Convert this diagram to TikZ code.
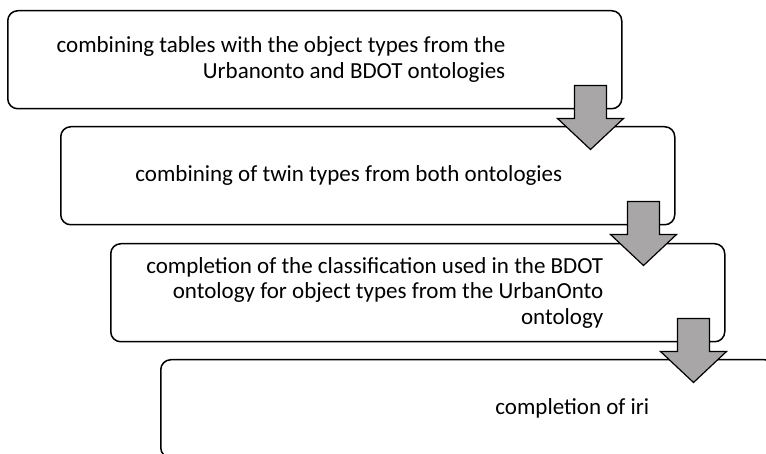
\documentclass[tikz,border=0pt]{standalone}
\usepackage{fontspec}
\setmainfont{Carlito}
\usetikzlibrary{positioning,calc}
\definecolor{grigio}{RGB}{168,166,166}
\tikzset{main base/.style={draw,line width=1.5pt}, }
\tikzset{main node/.style={rectangle,main base,rounded corners=10pt,
    minimum width=614pt,minimum height=98pt,anchor=north west}, }
\tikzset{main text/.style={font=\fontsize{23}{25.5}\selectfont,
    align=right,inner sep=0pt,anchor=east}, }
\tikzset{linea/.style={draw,line width=1.2pt,fill=grigio,line join=miter}}

\begin{document}
\begin{tikzpicture}[x=1pt,y=1pt]
  \useasboundingbox (0,0) rectangle (766,454);
  \clip (0,0) rectangle (766,454);
  % boxes
    \node[main node] (1) at (7,444) {};
    \node[main node] (2) at (60,328) {};
    \node[main node] (3) at (110,211) {};
    \node[main node] (4) at (160,95) {};
  % texts
    \node[main text] (5) at ($(1.east)+(-117,0)$) {combining tables with the object types from the\\
      Urbanonto and BDOT ontologies};
    \node[main text] (6) at ($(2.east)+(-113,0)$) {combining of twin types from both ontologies};
    \node[main text] (7) at ($(3.east)+(-122,0)$) {completion of the classification used in the BDOT\\
      ontology for object types from the UrbanOnto\\ ontology};
    \node[main text] (8) at ($(4.east)+(-126,0)$) {completion of iri};
%
\foreach \x /\y in{1/2,2/3,3/4}
  \draw[linea] ($(\x.south east)+(-48,24)$) -- ++(32,0) -- ++(0,-33) -- ++(17,0)
    -- ($(\x.south east)+(-32,-40)$) -- ++(-33,31) -- ++(17,0) -- cycle;
%
\end{tikzpicture}
\end{document}
